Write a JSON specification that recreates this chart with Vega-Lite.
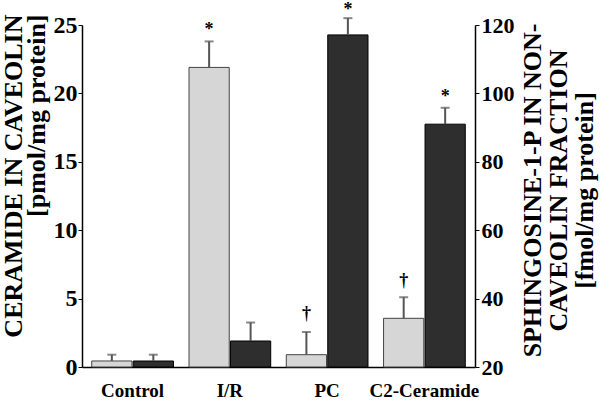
{
  "$schema": "https://vega.github.io/schema/vega-lite/v6.json",
  "autosize": "none",
  "width": 393,
  "height": 342,
  "padding": {"left": 82, "top": 25, "right": 125, "bottom": 35},
  "background": "white",
  "config": {
    "view": {"stroke": null},
    "font": "Liberation Serif",
    "axis": {
      "grid": false,
      "domainColor": "black",
      "tickColor": "black",
      "labelColor": "black",
      "titleColor": "black",
      "labelFont": "Liberation Serif",
      "titleFont": "Liberation Serif",
      "labelFontWeight": "bold",
      "titleFontWeight": "bold"
    }
  },
  "data": {
    "values": [
      {"group": "Control", "series": "Ceramide", "value": 0.44, "err": 0.9, "mark": null, "mark_at": null},
      {"group": "I/R", "series": "Ceramide", "value": 21.9, "err": 23.8, "mark": "*", "mark_at": 24.6},
      {"group": "PC", "series": "Ceramide", "value": 0.9, "err": 2.56, "mark": "†", "mark_at": 3.9},
      {"group": "C2-Ceramide", "series": "Ceramide", "value": 3.56, "err": 5.1, "mark": "†", "mark_at": 6.3},
      {"group": "Control", "series": "S1P", "value": 21.75, "err": 23.6, "mark": null, "mark_at": null},
      {"group": "I/R", "series": "S1P", "value": 27.6, "err": 33.0, "mark": null, "mark_at": null},
      {"group": "PC", "series": "S1P", "value": 117.1, "err": 122.0, "mark": "*", "mark_at": 124.4},
      {"group": "C2-Ceramide", "series": "S1P", "value": 91.0, "err": 95.8, "mark": "*", "mark_at": 98.9}
    ]
  },
  "encoding": {
    "x": {
      "field": "group",
      "type": "nominal",
      "sort": ["Control", "I/R", "PC", "C2-Ceramide"],
      "scale": {"paddingInner": 0.16, "paddingOuter": 0.1},
      "axis": {"title": null, "labelAngle": 0, "ticks": false, "labelFontSize": 19, "labelPadding": 14, "domainWidth": 1.5}
    },
    "xOffset": {
      "field": "series",
      "type": "nominal",
      "scale": {"domain": ["Ceramide", "S1P"], "paddingInner": 0.03}
    }
  },
  "layer": [
    {
      "transform": [{"filter": "datum.series === 'Ceramide'"}],
      "layer": [
        {
          "mark": {"type": "bar", "fill": "#d6d6d6", "stroke": "#444444", "strokeWidth": 1},
          "encoding": {
            "y": {
              "field": "value",
              "type": "quantitative",
              "scale": {"domain": [0, 25], "nice": false},
              "axis": {
                "orient": "left",
                "values": [0, 5, 10, 15, 20, 25],
                "labelFontSize": 24,
                "tickSize": 4,
                "labelPadding": 1,
                "domainWidth": 1.5,
                "title": ["CERAMIDE IN CAVEOLIN", "[pmol/mg protein]"],
                "titleFontSize": 26,
                "titleAngle": 270,
                "titleAlign": "right",
                "titleBaseline": "top",
                "titleX": -82,
                "titleY": -11,
                "titleLineHeight": 23
              }
            }
          }
        },
        {
          "mark": {"type": "rule", "color": "#555555", "strokeWidth": 2},
          "encoding": {"y": {"field": "value", "type": "quantitative"}, "y2": {"field": "err"}}
        },
        {
          "mark": {"type": "tick", "color": "#555555", "thickness": 2, "size": 9, "orient": "horizontal"},
          "encoding": {"y": {"field": "err", "type": "quantitative"}}
        },
        {
          "transform": [{"filter": "datum.mark != null"}],
          "mark": {"type": "text", "fontSize": 18, "fontWeight": "bold", "baseline": "middle", "color": "black"},
          "encoding": {"y": {"field": "mark_at", "type": "quantitative"}, "text": {"field": "mark"}}
        }
      ]
    },
    {
      "transform": [{"filter": "datum.series === 'S1P'"}],
      "layer": [
        {
          "mark": {"type": "bar", "fill": "#2e2e2e", "stroke": "black", "strokeWidth": 1},
          "encoding": {
            "y": {
              "field": "value",
              "type": "quantitative",
              "scale": {"domain": [20, 120], "nice": false},
              "axis": {
                "orient": "right",
                "values": [20, 40, 60, 80, 100, 120],
                "labelFontSize": 22,
                "tickSize": 4,
                "labelPadding": 2,
                "domainWidth": 1.5,
                "title": ["SPHINGOSINE-1-P IN NON-", "CAVEOLIN FRACTION", "[fmol/mg protein]"],
                "titleFontSize": 26,
                "titleAngle": 270,
                "titleAlign": "center",
                "titleBaseline": "top",
                "titleX": 44,
                "titleY": 165,
                "titleLineHeight": 26
              }
            },
            "y2": {"datum": 20}
          }
        },
        {
          "mark": {"type": "rule", "color": "#555555", "strokeWidth": 2},
          "encoding": {"y": {"field": "value", "type": "quantitative"}, "y2": {"field": "err"}}
        },
        {
          "mark": {"type": "tick", "color": "#555555", "thickness": 2, "size": 9, "orient": "horizontal"},
          "encoding": {"y": {"field": "err", "type": "quantitative"}}
        },
        {
          "transform": [{"filter": "datum.mark != null"}],
          "mark": {"type": "text", "fontSize": 18, "fontWeight": "bold", "baseline": "middle", "color": "black"},
          "encoding": {"y": {"field": "mark_at", "type": "quantitative"}, "text": {"field": "mark"}}
        }
      ]
    }
  ],
  "resolve": {"scale": {"y": "independent"}}
}
